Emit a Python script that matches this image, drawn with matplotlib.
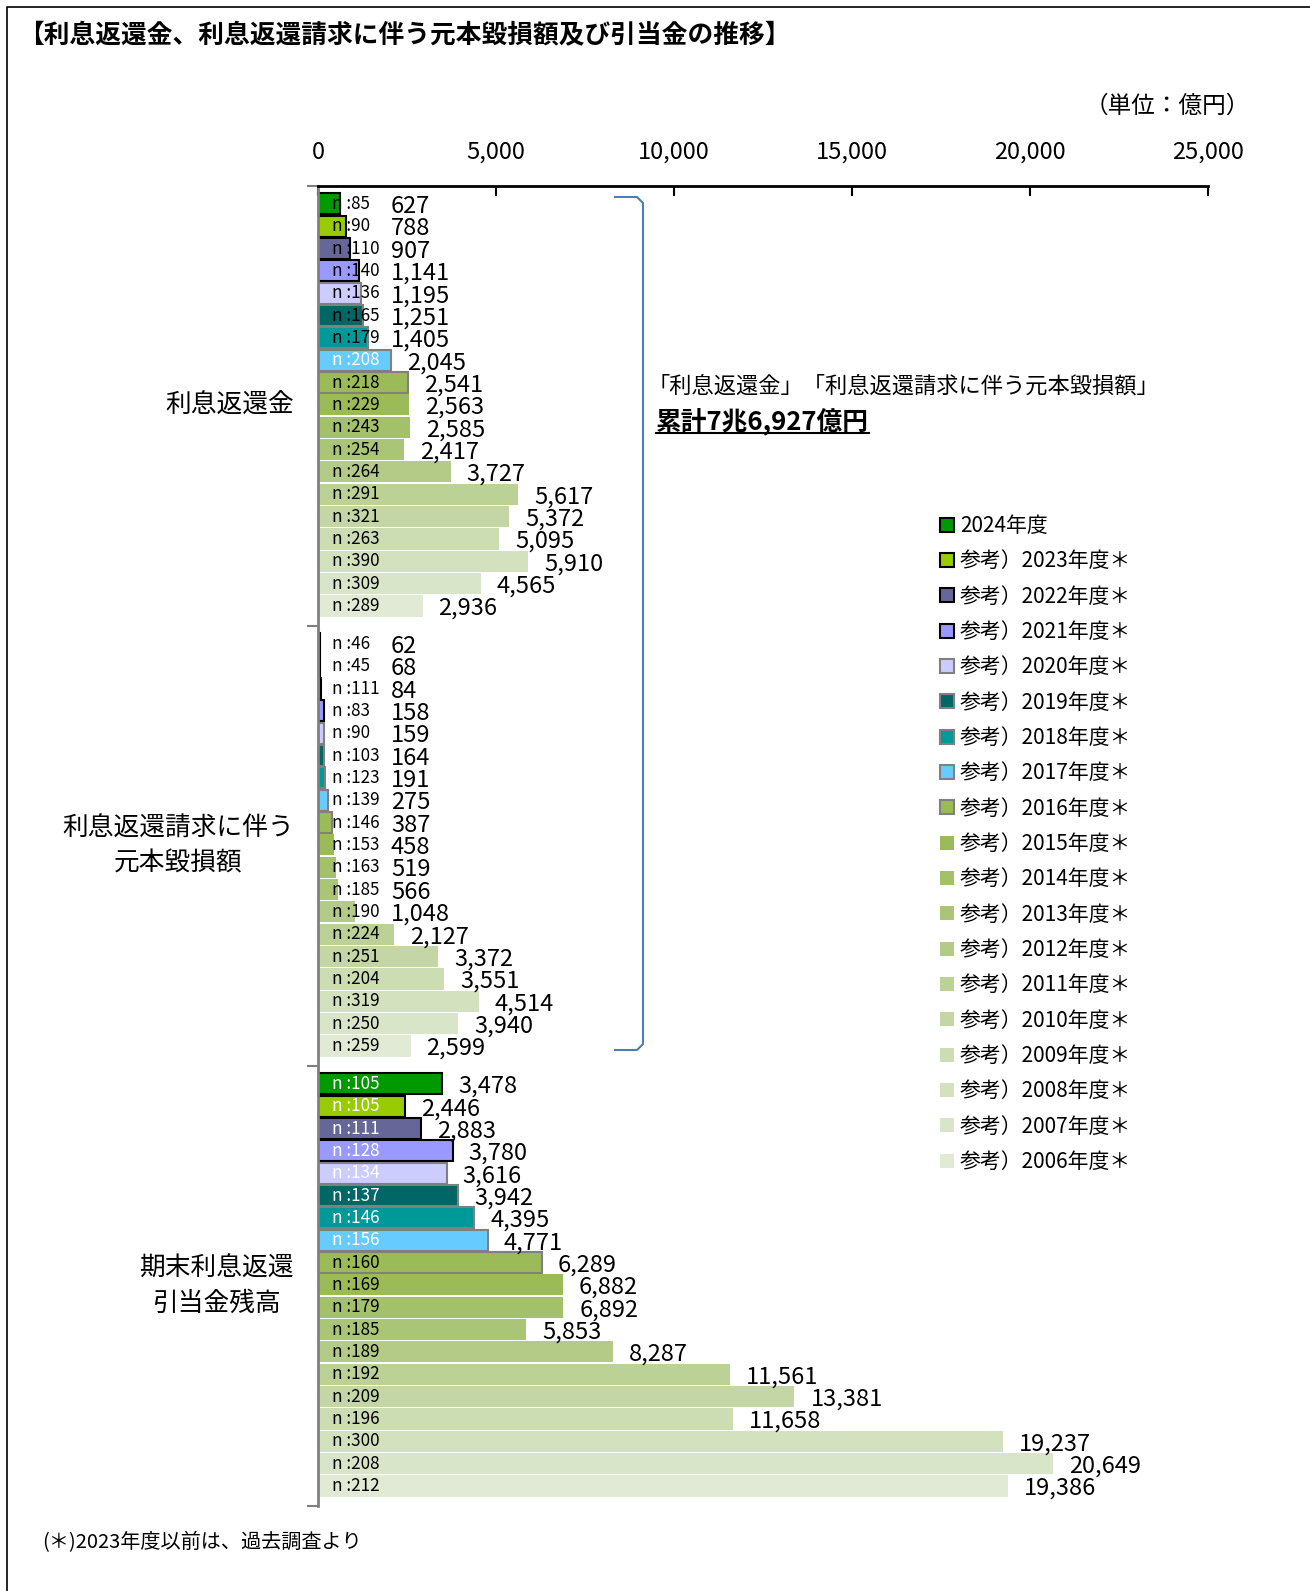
import matplotlib.pyplot as plt
from matplotlib.lines import Line2D

plt.rcParams['font.family'] = ['Noto Sans CJK JP', 'DejaVu Sans']

# fiscal years, top bar of each group first
years = [2024, 2023, 2022, 2021, 2020, 2019, 2018, 2017, 2016, 2015,
         2014, 2013, 2012, 2011, 2010, 2009, 2008, 2007, 2006]

groups = ["利息返還金", "利息返還請求に伴う\n元本毀損額", "期末利息返還\n引当金残高"]

# 利息返還金 (億円) and respondents
refund = [627, 788, 907, 1141, 1195, 1251, 1405, 2045, 2541, 2563,
          2585, 2417, 3727, 5617, 5372, 5095, 5910, 4565, 2936]
refund_n = [85, 90, 110, 140, 136, 165, 179, 208, 218, 229,
            243, 254, 264, 291, 321, 263, 390, 309, 289]

# 利息返還請求に伴う元本毀損額
principal = [62, 68, 84, 158, 159, 164, 191, 275, 387, 458,
             519, 566, 1048, 2127, 3372, 3551, 4514, 3940, 2599]
principal_n = [46, 45, 111, 83, 90, 103, 123, 139, 146, 153,
               163, 185, 190, 224, 251, 204, 319, 250, 259]

# 期末利息返還引当金残高
reserve = [3478, 2446, 2883, 3780, 3616, 3942, 4395, 4771, 6289, 6882,
           6892, 5853, 8287, 11561, 13381, 11658, 19237, 20649, 19386]
reserve_n = [105, 105, 111, 128, 134, 137, 146, 156, 160, 169,
             179, 185, 189, 192, 209, 196, 300, 208, 212]

values = [refund, principal, reserve]
counts = [refund_n, principal_n, reserve_n]

xticks = [0, 5000, 10000, 15000, 20000, 25000]

colors = ['#009900', '#99CC00', '#666699', '#9999FF', '#CCCCFF', '#006666',
          '#009999', '#66CCFF', '#9BBB59', '#9BBB59', '#A3C16A', '#ABC576',
          '#B3CB86', '#BBD195', '#C4D6A5', '#CCDCB3', '#D3E1BF', '#D9E5C9',
          '#E1EAD5']
edges = ['black'] * 4 + ['#808080'] * 5 + ['none'] * 10
# which n-labels are printed in white, per group
white_n = [{7}, set(), set(range(8))]

W, H = 1310, 1591
fig = plt.figure(figsize=(W / 100, H / 100), dpi=100)
ax = fig.add_axes([318 / W, 1 - 1506 / H, (1208 - 318) / W, (1506 - 186) / H])

GROUP = 19.7
PAD = 0.3
for i, year in enumerate(years):
    ys = [g * GROUP + PAD + i + 0.5 for g in range(3)]
    label = "2024年度" if i == 0 else f"参考）{year}年度＊"
    ax.barh(ys, [values[g][i] for g in range(3)], height=0.95,
            color=colors[i], edgecolor=edges[i],
            linewidth=1.5 if edges[i] != 'none' else 0, label=label)
    for g in range(3):
        v = values[g][i]
        ax.text(380, ys[g], f"n :{counts[g][i]}", ha='left', va='center',
                fontsize=12.3, color='white' if i in white_n[g] else 'black',
                zorder=5)
        ax.text(max(v + 450, 2050), ys[g] + 0.12, f"{v:,}", ha='left',
                va='center', fontsize=17, zorder=5)

ax.set_xlim(0, 25000)
ax.set_ylim(3 * GROUP, 0)
ax.xaxis.tick_top()
ax.set_xticks(xticks)
ax.set_xticklabels([f"{t:,}" for t in xticks], fontsize=17)
ax.tick_params(axis='x', direction='in', length=7, width=1.5, pad=16)
ax.set_yticks([0, GROUP, 2 * GROUP, 3 * GROUP])
ax.set_yticklabels([])
ax.tick_params(axis='y', direction='out', length=8, width=1.5, color='#808080')
ax.spines['right'].set_visible(False)
ax.spines['bottom'].set_visible(False)
ax.spines['top'].set_linewidth(2)
ax.spines['left'].set_color('#808080')
ax.spines['left'].set_linewidth(2)

for g, name in enumerate(groups):
    ax.text(-0.027, 1 - (g + 0.5) / 3, name, transform=ax.transAxes,
            ha='right', va='center', multialignment='center',
            fontsize=18.5, linespacing=1.45)

ax.legend(loc='upper left', bbox_to_anchor=(940 / W, 1 - 515 / H),
          bbox_transform=fig.transFigure, frameon=False, fontsize=15,
          handlelength=0.65, handleheight=0.65, handletextpad=0.3,
          labelspacing=0.64, borderpad=0, borderaxespad=0)


def fx(x):
    return x / W


def fy(y):
    return 1 - y / H


# frame, title, notes
fig.add_artist(Line2D([fx(7), fx(7), fx(W + 5)], [fy(H + 5), fy(7), fy(7)],
                      color='black', lw=1.2))
fig.text(fx(18), fy(35), "【利息返還金、利息返還請求に伴う元本毀損額及び引当金の推移】",
         ha='left', va='center', fontsize=18.5, fontweight=600)
fig.text(fx(1250), fy(106), "（単位：億円）", ha='right', va='center', fontsize=17)
fig.text(fx(42), fy(1543), "(＊)2023年度以前は、過去調査より", ha='left',
         va='center', fontsize=14.5)

# bracket around the first two groups
bx = [615, 637, 643, 643, 637, 615]
by = [197, 197, 203, 1044, 1050, 1050]
fig.add_artist(Line2D([fx(x) for x in bx], [fy(y) for y in by],
                      color='#4A7EBB', lw=1.5))
fig.text(fx(648), fy(386), "「利息返還金」「利息返還請求に伴う元本毀損額」",
         ha='left', va='center', fontsize=16)
total = fig.text(fx(656), fy(421), "累計7兆6,927億円", ha='left', va='center',
                 fontsize=18.5, fontweight='bold')

fig.canvas.draw()
bb = total.get_window_extent().transformed(fig.transFigure.inverted())
fig.add_artist(Line2D([bb.x0, bb.x1], [bb.y0 + 0.001, bb.y0 + 0.001],
                      color='black', lw=1.5))

fig.savefig("out.png", dpi=100)
